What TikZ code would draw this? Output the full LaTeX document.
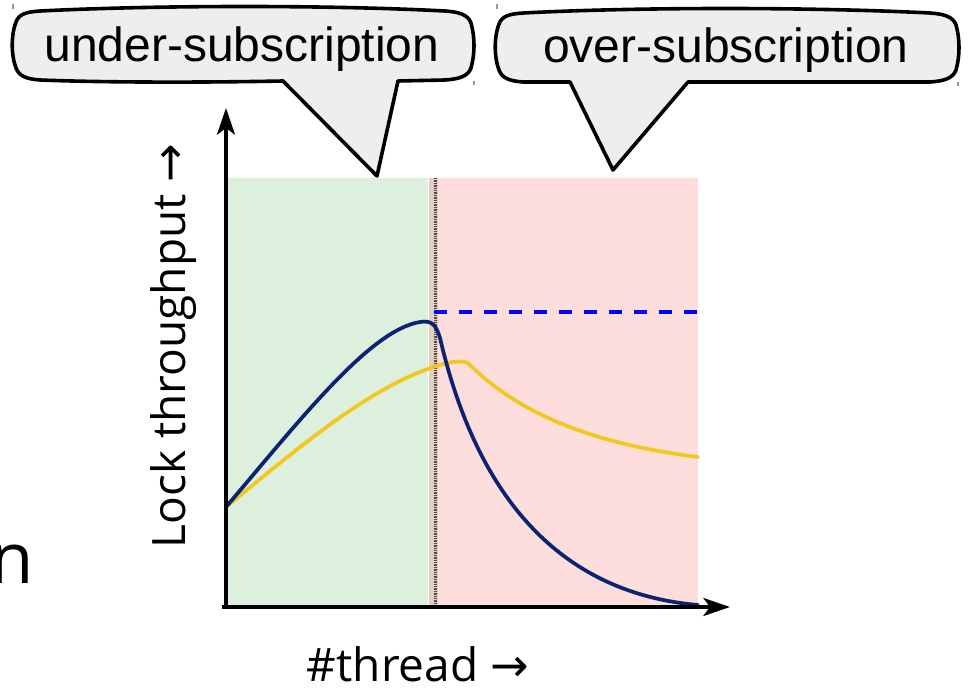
\documentclass[tikz,border=0pt]{standalone}
\usepackage{fontspec}
\setmainfont{Open Sans}
\newfontfamily\calloutfont{Liberation Sans}
\newfontfamily\arrowfont{DejaVu Sans}
\usetikzlibrary{arrows,arrows.meta,positioning}

\definecolor{underfill}{HTML}{DDEFDD}
\definecolor{overfill}{HTML}{FDDEDD}
\definecolor{edgefill}{HTML}{E2CDBF}
\definecolor{navyline}{HTML}{0A2470}
\definecolor{goldline}{HTML}{F2C81E}
\definecolor{bubblefill}{HTML}{EEEEEE}

\begin{document}
\begin{tikzpicture}[x=0.75pt,y=-0.75pt,>={Stealth[length=20pt,width=13.5pt,inset=5pt]},semithick]
        \tikzstyle{bubble}=[draw=black, line width=2.7pt, fill=bubblefill, line join=round]
        \tikzstyle{bubble text}=[font=\calloutfont\fontsize{36}{44}\selectfont, inner sep=0pt, anchor=base]
        \tikzstyle{axis}=[->, line width=2.6pt]
        \tikzstyle{axis label}=[font=\fontsize{34.5}{40}\selectfont, inner sep=0pt, anchor=base]
        \tikzstyle{curve}=[line width=2.8pt, line cap=round]
        \tikzstyle{handle}=[draw=black!40, line width=0.8pt]

        \useasboundingbox (0,0) rectangle (968,688);

        % the two regimes and the edge between them
        \fill[underfill] (228,178) rectangle (428,607);
        \fill[edgefill]  (429,178) rectangle (438,607);
        \fill[overfill]  (438,178) rectangle (698,607);
        \draw[black!70, line width=2.4pt, dash pattern=on 1pt off 0.8pt] (435.5,178) -- (435.5,607);

        % best case after the core count
        \draw[blue, line width=2.6pt, dash pattern=on 9.75pt off 9pt] (434,312) -- (698,312);

        % lock curves
        \draw[curve, goldline] (226,507) .. controls (290,455) and (370,385) .. (440,365)
              .. controls (450,362) and (460,360) .. (468,363)
              .. controls (500,395) and (560,440) .. (698,457);
        \draw[curve, navyline] (226,507) .. controls (300,420) and (370,330) .. (420,322)
              .. controls (432,320) and (436,325) .. (440,338)
              .. controls (465,445) and (525,590) .. (698,605);

        % axes
        \coordinate (o)    at (226,607);
        \coordinate (ytop) at (226,108);
        \coordinate (xend) at (730,607);
        \draw[axis] (222,607) -- (xend);
        \draw[axis] (o) -- (ytop);

        \node[axis label, rotate=90] (ylabel) at (185,346) {Lock throughput {\arrowfont →}};
        \node[axis label]            (xlabel) at (418,681) {\#thread {\arrowfont →}};
        \node[font=\fontsize{53}{60}\selectfont, inner sep=0pt, anchor=base west] (cut) at (-10,583) {n};

        % callouts
        \draw[bubble] (16,68) .. controls (11,55) and (11,35) .. (16,22)
              .. controls (19,14) and (26,12) .. (40,11)
              .. controls (160,5) and (330,5) .. (445,11)
              .. controls (460,12) and (468,15) .. (471,23)
              .. controls (475,37) and (475,54) .. (471,68)
              .. controls (468,76) and (460,79) .. (445,80)
              -- (398,81) -- (377,176) -- (283,81)
              .. controls (180,83) and (90,82) .. (40,80)
              .. controls (26,79) and (19,76) .. (16,68) -- cycle;
        \node[bubble text] (under) at (242,62) {under-subscription};

        \draw[bubble] (499,70) .. controls (494,57) and (494,37) .. (499,24)
              .. controls (502,16) and (509,14) .. (523,13)
              .. controls (640,7) and (810,7) .. (930,13)
              .. controls (945,14) and (953,17) .. (956,25)
              .. controls (960,39) and (960,56) .. (956,70)
              .. controls (953,78) and (945,81) .. (930,82)
              -- (688,82) -- (613,170) -- (570,82)
              .. controls (560,82) and (540,82) .. (523,82)
              .. controls (509,81) and (502,78) .. (499,70) -- cycle;
        \node[bubble text] (over) at (726,63) {over-subscription};

        % selection handles
        \draw[handle] (13,4) -- (13,9);
        \draw[handle] (474,81) -- (474,85);
        \draw[handle] (497,4) -- (497,9);
        \draw[handle] (958,82) -- (958,86);
\end{tikzpicture}
\end{document}
